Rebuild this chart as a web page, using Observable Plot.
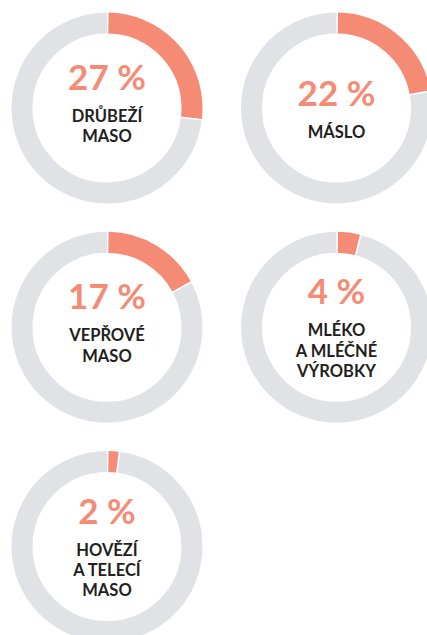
<!DOCTYPE html>
<html><head><meta charset="utf-8">
<script src="https://cdn.jsdelivr.net/npm/d3@7"></script>
<script src="https://cdn.jsdelivr.net/npm/@observablehq/plot@0.6"></script>
<style>html,body{margin:0;padding:0;background:#fff}svg{display:block}</style>
</head><body><div id="chart"></div>
<script>
// Data
const labels = ["DRŮBEŽÍ\nMASO", "MÁSLO", "VEPŘOVÉ\nMASO", "MLÉKO\nA MLÉČNÉ\nVÝROBKY", "HOVĚZÍ\nA TELECÍ\nMASO"];
const values = [27, 22, 17, 4, 2];
const cols = [0, 1, 0, 1, 0];
const rows = [0, 0, 1, 1, 2];

const data = values.map((v, i) => ({
  value: v, label: labels[i], col: cols[i], row: rows[i],
  lines: labels[i].split("\n").length
}));

// Styling / layout
const SALMON = "#F58B74", GRAY = "#E1E2E6", INK = "#231F20";
const R = 85, SW = 21, C = 2 * Math.PI * R, GAP = 1.6;
const PCT_SHIFT = {1: -2, 2: -18, 3: -23};
const LABEL_FS = 16.5, LABEL_LH = 20.5;

const marks = data.flatMap(d => {
  const L = C * d.value / 100;
  const pb = PCT_SHIFT[d.lines];
  return [
    Plot.dot([d], {x: "col", y: "row", r: R, stroke: GRAY, strokeWidth: SW, fill: "none",
      strokeDasharray: `${C - L - GAP} ${L + GAP}`, strokeDashoffset: C / 4 - L - GAP / 2}),
    Plot.dot([d], {x: "col", y: "row", r: R, stroke: SALMON, strokeWidth: SW, fill: "none",
      strokeDasharray: `${L - GAP} ${C - L + GAP}`, strokeDashoffset: C / 4 - GAP / 2}),
    Plot.text([d], {x: "col", y: "row", text: d => `${d.value} %`, fontSize: 35, fontWeight: 700,
      fill: SALMON, lineAnchor: "bottom", dy: pb}),
    Plot.text([d], {x: "col", y: "row", text: "label", fontSize: LABEL_FS, fontWeight: 700,
      fill: INK, lineAnchor: "top", lineHeight: LABEL_LH / LABEL_FS,
      dy: pb + 32 - 0.71 * LABEL_LH})
  ];
});

const chart = Plot.plot({
  width: 427, height: 635, margin: 0,
  x: {type: "linear", domain: [0, 1], range: [106.5, 336], axis: null},
  y: {type: "linear", domain: [0, 2], range: [107.5, 546], axis: null},
  style: {fontFamily: "Lato, sans-serif", background: "white"},
  marks
});
document.getElementById("chart").appendChild(chart);
</script>
</body></html>
